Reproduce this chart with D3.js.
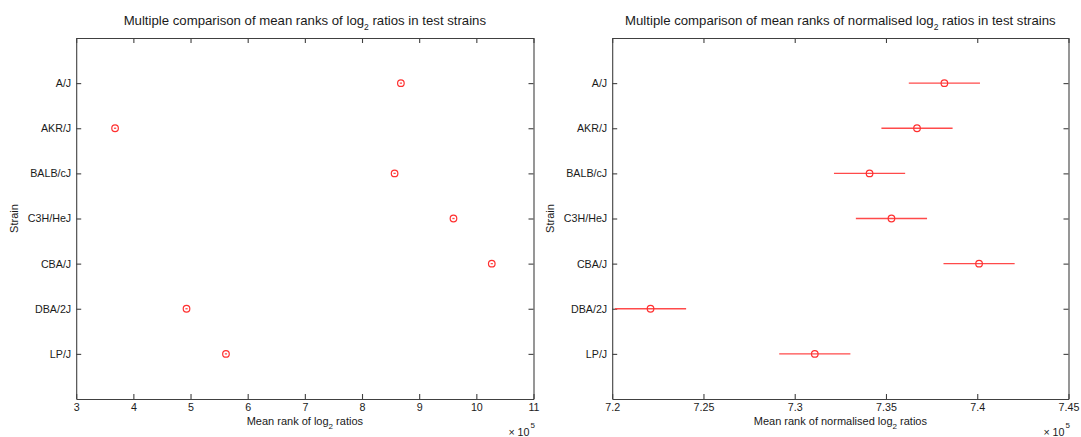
<!DOCTYPE html>
<html>
<head>
<meta charset="utf-8">
<script src="https://cdn.jsdelivr.net/npm/d3@7"></script>
<style>
body { margin: 0; background: #fff; }
svg text { font-family: "Liberation Sans", Arial, Helvetica, sans-serif; fill: #1a1a1a; }
.axis path, .axis line { stroke: #404040; stroke-width: 1.1; }
</style>
</head>
<body>
<script>
// Strains, top to bottom
var strains = ["A/J", "AKR/J", "BALB/cJ", "C3H/HeJ", "CBA/J", "DBA/2J", "LP/J"];

// Mean ranks (x 10^5)
var rawMeanRank  = [8.68, 3.68, 8.57, 9.60, 10.27, 4.93, 5.62];
var normMeanRank = [7.382, 7.367, 7.341, 7.353, 7.401, 7.221, 7.311];

// Half width of the comparison intervals (x 10^5)
var rawHalfWidth  = [0.0195, 0.0195, 0.0195, 0.0195, 0.0195, 0.0195, 0.0195];
var normHalfWidth = [0.0195, 0.0195, 0.0195, 0.0195, 0.0195, 0.0195, 0.0195];

// Tick values
var rawTicks  = [3, 4, 5, 6, 7, 8, 9, 10, 11];
var normTicks = [7.2, 7.25, 7.3, 7.35, 7.4, 7.45];

var W = 1081, H = 437;
// note: "top" is taken by window.top, so use other names
var plotTop = 38, plotBottom = 399;

var svg = d3.select("body")
    .append("svg")
    .attr("width", W)
    .attr("height", H);

function drawPanel(p) {
    var x = d3.scaleLinear()
        .domain(d3.extent(p.ticks))
        .range([p.left, p.right]);

    // categories spaced like MATLAB's 0..8 y range
    var y = d3.scalePoint()
        .domain(strains)
        .range([plotTop, plotBottom])
        .padding(1);

    var g = svg.append("g");

    // bottom axis with labels, ticks pointing inward
    g.append("g")
        .attr("class", "axis")
        .attr("transform", `translate(0, ${plotBottom})`)
        .call(d3.axisBottom(x)
            .tickValues(p.ticks)
            .tickFormat(d => String(+d.toFixed(2)))
            .tickSizeInner(-5)
            .tickSizeOuter(0)
            .tickPadding(4))
        .selectAll("text").attr("font-size", "10.7px");

    // top axis, ticks only
    g.append("g")
        .attr("class", "axis")
        .attr("transform", `translate(0, ${plotTop})`)
        .call(d3.axisTop(x)
            .tickValues(p.ticks)
            .tickFormat("")
            .tickSizeInner(-5)
            .tickSizeOuter(0));

    // left axis with strain names
    g.append("g")
        .attr("class", "axis")
        .attr("transform", `translate(${p.left}, 0)`)
        .call(d3.axisLeft(y)
            .tickSizeInner(-5)
            .tickSizeOuter(0)
            .tickPadding(5))
        .selectAll("text").attr("font-size", "10.7px");

    // right axis, ticks only
    g.append("g")
        .attr("class", "axis")
        .attr("transform", `translate(${p.right}, 0)`)
        .call(d3.axisRight(y)
            .tickFormat("")
            .tickSizeInner(-5)
            .tickSizeOuter(0));

    g.selectAll(".axis text").attr("fill", "#1a1a1a").attr("stroke", "none");

    var rows = strains.map((s, i) => ({ strain: s, mean: p.means[i], half: p.halfs[i] }));

    // comparison intervals
    g.selectAll(".bar")
        .data(rows)
        .enter().append("line")
        .attr("class", "bar")
        .attr("x1", d => x(d.mean - d.half))
        .attr("x2", d => x(d.mean + d.half))
        .attr("y1", d => y(d.strain))
        .attr("y2", d => y(d.strain))
        .attr("stroke", "#ff4a4a")
        .attr("stroke-width", 1.3);

    // mean rank markers
    g.selectAll(".dot")
        .data(rows)
        .enter().append("circle")
        .attr("class", "dot")
        .attr("cx", d => x(d.mean))
        .attr("cy", d => y(d.strain))
        .attr("r", 3.3)
        .attr("fill", "none")
        .attr("stroke", "#ff3030")
        .attr("stroke-width", 1.2);

    var cx = (p.left + p.right) / 2;

    // title
    var t = g.append("text")
        .attr("x", cx)
        .attr("y", 24.5)
        .attr("text-anchor", "middle")
        .attr("font-size", "13.2px");
    t.append("tspan").text(p.titleA);
    t.append("tspan").attr("font-size", "8.5px").attr("dy", 5).text("2");
    t.append("tspan").attr("dy", -5).text(" ratios in test strains");

    // x label
    var xl = g.append("text")
        .attr("x", cx)
        .attr("y", 424.5)
        .attr("text-anchor", "middle")
        .attr("font-size", "11px");
    xl.append("tspan").text(p.xlabelA);
    xl.append("tspan").attr("font-size", "8px").attr("dy", 4).text("2");
    xl.append("tspan").attr("dy", -4).text(" ratios");

    // exponent
    g.append("text")
        .attr("x", p.right - 4)
        .attr("y", 435.5)
        .attr("text-anchor", "end")
        .attr("font-size", "10.7px")
        .text("\u00d7 10");
    g.append("text")
        .attr("x", p.right - 3)
        .attr("y", 427.5)
        .attr("font-size", "8px")
        .text("5");

    // y label
    g.append("text")
        .attr("transform", `translate(${p.left - 58}, ${(plotTop + plotBottom) / 2}) rotate(-90)`)
        .attr("text-anchor", "middle")
        .attr("font-size", "11px")
        .text("Strain");
}

drawPanel({
    left: 76.2, right: 533.5,
    ticks: rawTicks, means: rawMeanRank, halfs: rawHalfWidth,
    titleA: "Multiple comparison of mean ranks of log",
    xlabelA: "Mean rank of log"
});

drawPanel({
    left: 612.2, right: 1068.5,
    ticks: normTicks, means: normMeanRank, halfs: normHalfWidth,
    titleA: "Multiple comparison of mean ranks of normalised log",
    xlabelA: "Mean rank of normalised log"
});
</script>
</body>
</html>
